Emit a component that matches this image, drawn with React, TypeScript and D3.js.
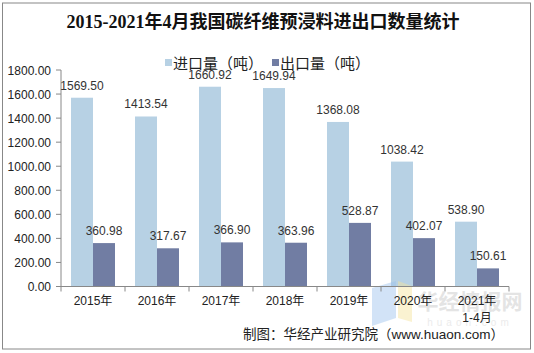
import React from "react";
import * as d3 from "d3";

const years = ["2015年", "2016年", "2017年", "2018年", "2019年", "2020年", "2021年"];
const yearSub = ["", "", "", "", "", "", "1-4月"];
const seriesNames = ["进口量（吨）", "出口量（吨）"];
const importVals = [1569.5, 1413.54, 1660.92, 1649.94, 1368.08, 1038.42, 538.9];
const exportVals = [360.98, 317.67, 366.9, 363.96, 528.87, 402.07, 150.61];
const yTicks = [0, 200, 400, 600, 800, 1000, 1200, 1400, 1600, 1800];
const colors = ["#B7D1E4", "#717DA3"];

const W = 534;
const H = 353;
const plot = { left: 61, right: 509, top: 70, bottom: 286.5 };
const latin = "'Liberation Sans', Arial, 'Noto Sans CJK SC', sans-serif";
const cjk = "'Liberation Sans', 'Noto Sans CJK SC', sans-serif";

export default function App() {
  const x0 = d3.scaleBand<string>().domain(years).range([plot.left, plot.right]);
  const x1 = d3
    .scaleBand<number>()
    .domain([0, 1])
    .range([0, x0.bandwidth()])
    .paddingInner(0)
    .paddingOuter(0.4545);
  const y = d3.scaleLinear().domain([0, 1800]).range([plot.bottom, plot.top]);

  const data = [importVals, exportVals];
  const boundaries = years.map((d) => x0(d)!).concat([plot.right]);

  return (
    <svg
      width={W}
      height={H}
      style={{ position: "absolute", left: 0, top: 0, background: "#fff" }}
    >
      <rect x={2.5} y={3} width={528} height={346} fill="#fff" stroke="#888" strokeWidth={1} />

      {/* title */}
      <text
        x={263}
        y={28}
        textAnchor="middle"
        fontFamily="'Liberation Serif', 'Noto Sans CJK SC', serif"
        fontWeight="bold"
        fontSize={18}
        fill="#111"
      >
        2015-2021年4月我国碳纤维预浸料进出口数量统计
      </text>

      {/* legend */}
      {seriesNames.map((s, i) => {
        const lx = 165 + i * 107;
        return (
          <g key={s}>
            <rect x={lx} y={59} width={7} height={7} fill={colors[i]} />
            <text x={lx + 8} y={68.5} fontFamily={cjk} fontSize={15} fill="#222">
              {s}
            </text>
          </g>
        );
      })}

      {/* y axis */}
      <line x1={plot.left} x2={plot.left} y1={plot.top} y2={plot.bottom} stroke="#888" />
      {yTicks.map((t) => (
        <g key={t}>
          <line x1={plot.left - 5} x2={plot.left} y1={y(t)} y2={y(t)} stroke="#888" />
          <text
            x={plot.left - 10}
            y={y(t) + 4.5}
            textAnchor="end"
            fontFamily={latin}
            fontSize={12}
            fill="#222"
          >
            {t.toFixed(2)}
          </text>
        </g>
      ))}

      {/* bars */}
      {years.map((yr, gi) => (
        <g key={yr} transform={`translate(${x0(yr)},0)`}>
          {data.map((vals, si) => (
            <rect
              key={si}
              x={x1(si)}
              y={y(vals[gi])}
              width={x1.bandwidth()}
              height={y(0) - y(vals[gi])}
              fill={colors[si]}
            />
          ))}
        </g>
      ))}

      {/* watermark */}
      <g opacity={0.45}>
        <polygon points="372,288 396,281 396,318 372,326" fill="#9cc3ee" />
        <polygon points="398,281 412,286 412,322 398,318" fill="#f6e39a" />
        <text x={470} y={309} textAnchor="middle" fontFamily={cjk} fontWeight="bold" fontSize={21} fill="#c4c4c4">
          华经情报网
        </text>
        <text x={470} y={326} textAnchor="middle" fontFamily={latin} fontSize={10} letterSpacing={4} fill="#d4d4d4">
          huaon.com
        </text>
      </g>

      {/* value labels */}
      {years.map((yr, gi) => (
        <g key={yr} transform={`translate(${x0(yr)},0)`}>
          {data.map((vals, si) => (
            <text
              key={si}
              x={x1(si)! + x1.bandwidth() / 2}
              y={y(vals[gi]) - 8}
              textAnchor="middle"
              fontFamily={latin}
              fontSize={12}
              fill="#333"
            >
              {vals[gi].toFixed(2)}
            </text>
          ))}
        </g>
      ))}

      {/* x axis */}
      <line x1={plot.left} x2={plot.right} y1={plot.bottom} y2={plot.bottom} stroke="#888" />
      {boundaries.map((bx, i) => (
        <line key={i} x1={bx} x2={bx} y1={plot.bottom} y2={plot.bottom + 5} stroke="#888" />
      ))}
      {years.map((yr, i) => (
        <g key={yr}>
          <text
            x={x0(yr)! + x0.bandwidth() / 2}
            y={305}
            textAnchor="middle"
            fontFamily={cjk}
            fontSize={12}
            fill="#222"
          >
            {yr}
          </text>
          {yearSub[i] && (
            <text
              x={x0(yr)! + x0.bandwidth() / 2}
              y={322}
              textAnchor="middle"
              fontFamily={cjk}
              fontSize={12}
              fill="#222"
            >
              {yearSub[i]}
            </text>
          )}
        </g>
      ))}

      {/* source */}
      <text x={504} y={339} textAnchor="end" fontFamily={cjk} fontSize={13.5} fill="#222">
        制图：华经产业研究院（www.huaon.com）
      </text>
    </svg>
  );
}
